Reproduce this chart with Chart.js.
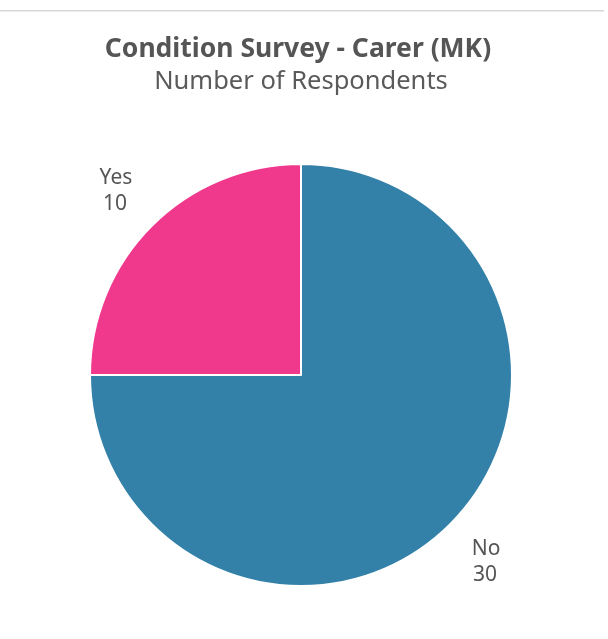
<!DOCTYPE html>
<html>
<head>
<meta charset="utf-8">
<script src="https://cdn.jsdelivr.net/npm/chart.js@4/dist/chart.umd.min.js"></script>
<style>
  html, body { margin: 0; padding: 0; background: #fff; }
  #wrap { position: relative; width: 608px; height: 639px; }
  #topline { position: absolute; left: 0; top: 10px; width: 604px; height: 1px; background: #d6d6d6; box-shadow: 0 1px 1px #e8e8e8; }
  canvas { position: absolute; left: 0; top: 0; }
</style>
</head>
<body>
<div id="wrap">
  <div id="topline"></div>
  <canvas id="c" width="608" height="639"></canvas>
</div>
<script>
const titleText = "Condition Survey - Carer (MK)";
const subtitleText = "Number of Respondents";
const categories = ["No", "Yes"];
const values = [30, 10];
const colors = ["#3381a9", "#f0388d"];

const FONT = "'Noto Sans', sans-serif";
const LABEL_SIZE = 21;

const outsideLabels = {
  id: 'outsideLabels',
  afterDatasetsDraw(chart) {
    const ctx = chart.ctx;
    const meta = chart.getDatasetMeta(0);
    ctx.save();
    ctx.fillStyle = '#555';
    ctx.font = LABEL_SIZE + "px " + FONT;
    ctx.textAlign = 'center';
    ctx.textBaseline = 'alphabetic';
    const half = LABEL_SIZE * 0.714 / 2;
    meta.data.forEach((arc, i) => {
      const p = arc.getProps(['x', 'y', 'startAngle', 'endAngle', 'outerRadius'], true);
      const mid = (p.startAngle + p.endAngle) / 2;
      const r = p.outerRadius * 1.24;
      const x = p.x + Math.cos(mid) * r;
      const y = p.y + Math.sin(mid) * r;
      ctx.fillText(chart.data.labels[i], x, y - 13 + half);
      ctx.fillText(String(chart.data.datasets[0].data[i]), x - 1, y + 13 + half);
    });
    ctx.restore();
  }
};

const titles = {
  id: 'titles',
  afterDraw(chart) {
    const ctx = chart.ctx;
    ctx.save();
    ctx.fillStyle = '#555';
    ctx.textAlign = 'center';
    ctx.textBaseline = 'alphabetic';
    ctx.font = "bold 26.5px " + FONT;
    ctx.fillText(titleText, 298, 57);
    ctx.font = "25.5px " + FONT;
    ctx.fillStyle = '#5a5a5a';
    ctx.fillText(subtitleText, 301, 89);
    ctx.restore();
  }
};

new Chart(document.getElementById('c'), {
  type: 'pie',
  data: {
    labels: categories,
    datasets: [{
      data: values,
      backgroundColor: colors,
      borderColor: '#ffffff',
      borderWidth: 2
    }]
  },
  options: {
    responsive: false,
    animation: false,
    layout: { padding: { top: 163, bottom: 52, left: 89, right: 95 } },
    plugins: {
      legend: { display: false },
      title: { display: false },
      tooltip: { enabled: false }
    }
  },
  plugins: [outsideLabels, titles]
});
</script>
</body>
</html>
